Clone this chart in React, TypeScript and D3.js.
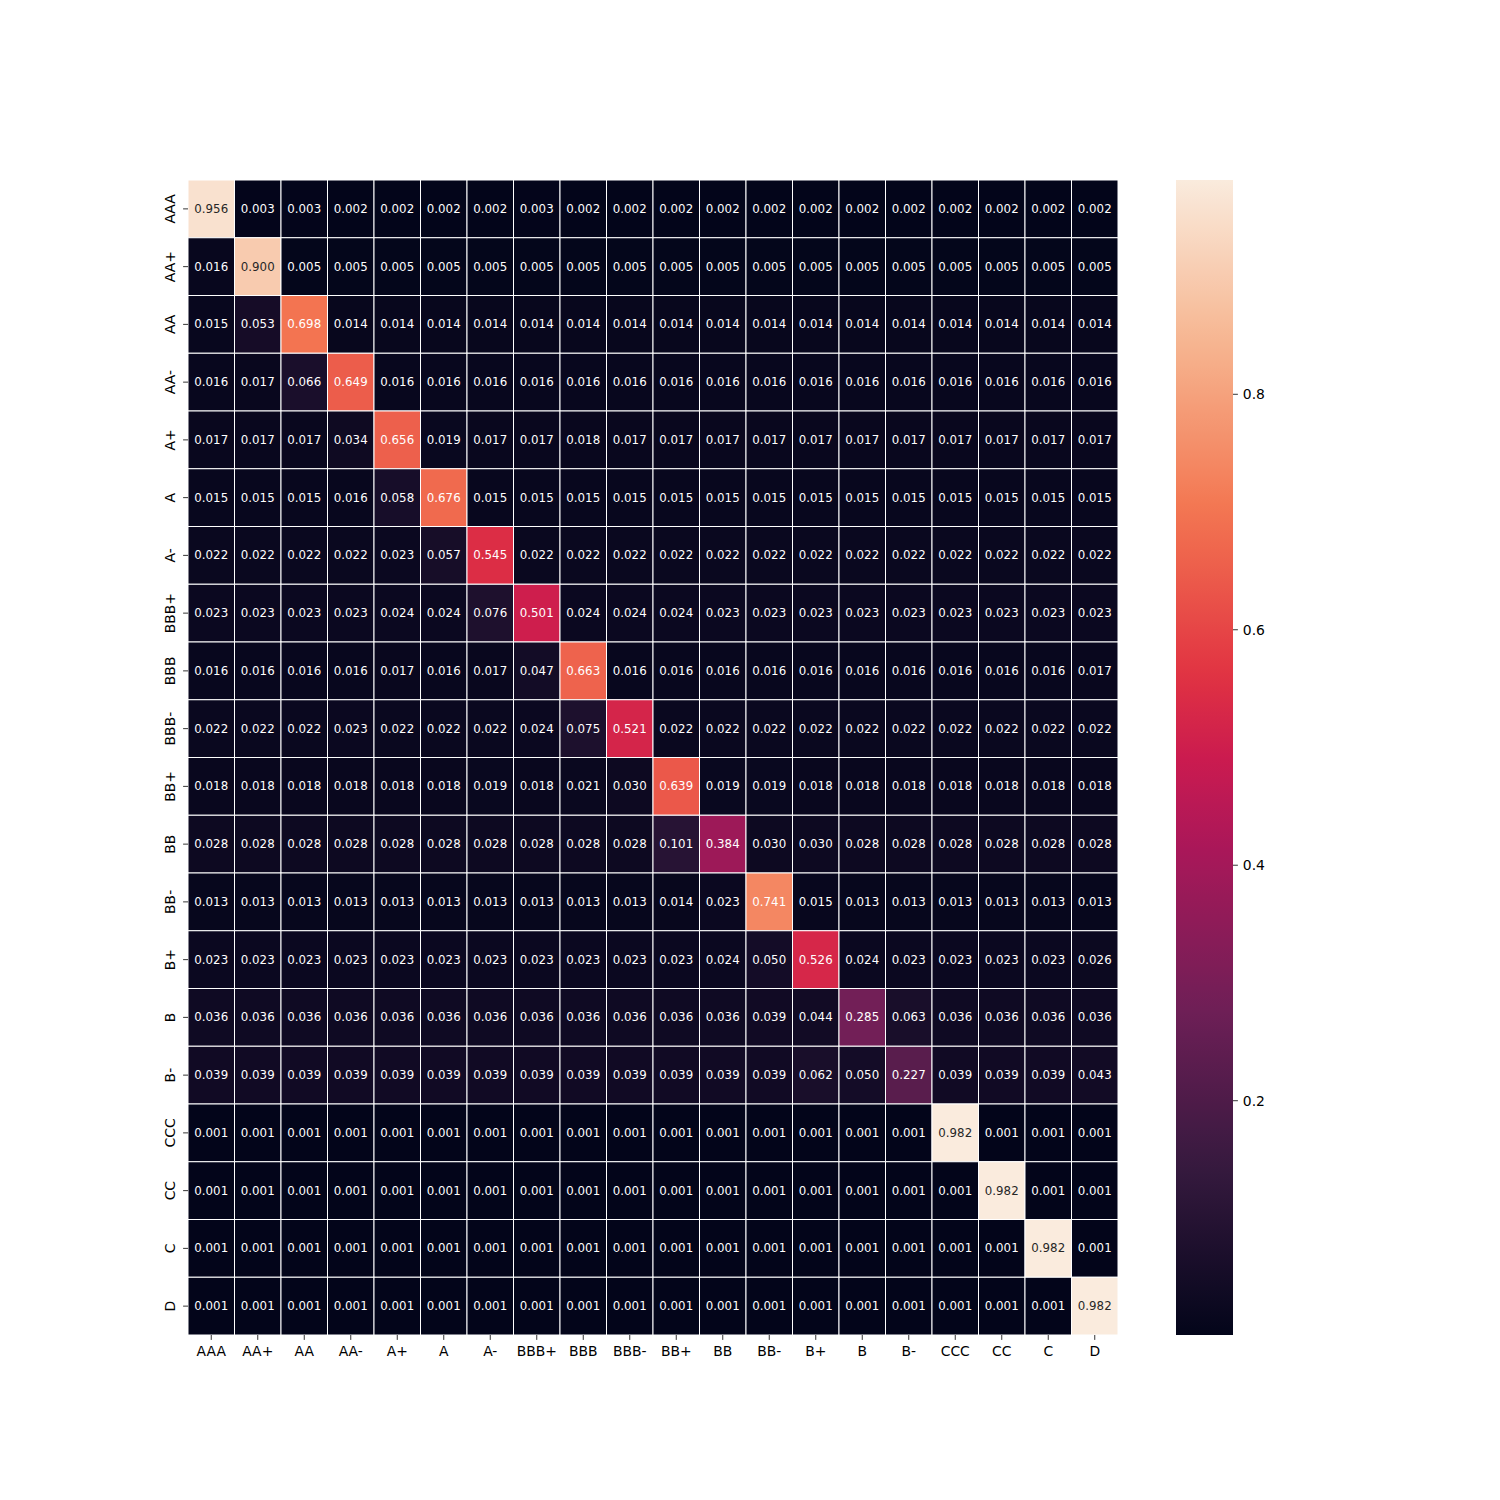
import React from 'react';
import * as d3 from 'd3';

const ratings = ['AAA', 'AA+', 'AA', 'AA-', 'A+', 'A', 'A-', 'BBB+', 'BBB', 'BBB-', 'BB+', 'BB', 'BB-', 'B+', 'B', 'B-', 'CCC', 'CC', 'C', 'D'];

// transition probabilities, one row per starting rating
const transitions = [
  [0.956, 0.003, 0.003, 0.002, 0.002, 0.002, 0.002, 0.003, 0.002, 0.002, 0.002, 0.002, 0.002, 0.002, 0.002, 0.002, 0.002, 0.002, 0.002, 0.002],
  [0.016, 0.900, 0.005, 0.005, 0.005, 0.005, 0.005, 0.005, 0.005, 0.005, 0.005, 0.005, 0.005, 0.005, 0.005, 0.005, 0.005, 0.005, 0.005, 0.005],
  [0.015, 0.053, 0.698, 0.014, 0.014, 0.014, 0.014, 0.014, 0.014, 0.014, 0.014, 0.014, 0.014, 0.014, 0.014, 0.014, 0.014, 0.014, 0.014, 0.014],
  [0.016, 0.017, 0.066, 0.649, 0.016, 0.016, 0.016, 0.016, 0.016, 0.016, 0.016, 0.016, 0.016, 0.016, 0.016, 0.016, 0.016, 0.016, 0.016, 0.016],
  [0.017, 0.017, 0.017, 0.034, 0.656, 0.019, 0.017, 0.017, 0.018, 0.017, 0.017, 0.017, 0.017, 0.017, 0.017, 0.017, 0.017, 0.017, 0.017, 0.017],
  [0.015, 0.015, 0.015, 0.016, 0.058, 0.676, 0.015, 0.015, 0.015, 0.015, 0.015, 0.015, 0.015, 0.015, 0.015, 0.015, 0.015, 0.015, 0.015, 0.015],
  [0.022, 0.022, 0.022, 0.022, 0.023, 0.057, 0.545, 0.022, 0.022, 0.022, 0.022, 0.022, 0.022, 0.022, 0.022, 0.022, 0.022, 0.022, 0.022, 0.022],
  [0.023, 0.023, 0.023, 0.023, 0.024, 0.024, 0.076, 0.501, 0.024, 0.024, 0.024, 0.023, 0.023, 0.023, 0.023, 0.023, 0.023, 0.023, 0.023, 0.023],
  [0.016, 0.016, 0.016, 0.016, 0.017, 0.016, 0.017, 0.047, 0.663, 0.016, 0.016, 0.016, 0.016, 0.016, 0.016, 0.016, 0.016, 0.016, 0.016, 0.017],
  [0.022, 0.022, 0.022, 0.023, 0.022, 0.022, 0.022, 0.024, 0.075, 0.521, 0.022, 0.022, 0.022, 0.022, 0.022, 0.022, 0.022, 0.022, 0.022, 0.022],
  [0.018, 0.018, 0.018, 0.018, 0.018, 0.018, 0.019, 0.018, 0.021, 0.030, 0.639, 0.019, 0.019, 0.018, 0.018, 0.018, 0.018, 0.018, 0.018, 0.018],
  [0.028, 0.028, 0.028, 0.028, 0.028, 0.028, 0.028, 0.028, 0.028, 0.028, 0.101, 0.384, 0.030, 0.030, 0.028, 0.028, 0.028, 0.028, 0.028, 0.028],
  [0.013, 0.013, 0.013, 0.013, 0.013, 0.013, 0.013, 0.013, 0.013, 0.013, 0.014, 0.023, 0.741, 0.015, 0.013, 0.013, 0.013, 0.013, 0.013, 0.013],
  [0.023, 0.023, 0.023, 0.023, 0.023, 0.023, 0.023, 0.023, 0.023, 0.023, 0.023, 0.024, 0.050, 0.526, 0.024, 0.023, 0.023, 0.023, 0.023, 0.026],
  [0.036, 0.036, 0.036, 0.036, 0.036, 0.036, 0.036, 0.036, 0.036, 0.036, 0.036, 0.036, 0.039, 0.044, 0.285, 0.063, 0.036, 0.036, 0.036, 0.036],
  [0.039, 0.039, 0.039, 0.039, 0.039, 0.039, 0.039, 0.039, 0.039, 0.039, 0.039, 0.039, 0.039, 0.062, 0.050, 0.227, 0.039, 0.039, 0.039, 0.043],
  [0.001, 0.001, 0.001, 0.001, 0.001, 0.001, 0.001, 0.001, 0.001, 0.001, 0.001, 0.001, 0.001, 0.001, 0.001, 0.001, 0.982, 0.001, 0.001, 0.001],
  [0.001, 0.001, 0.001, 0.001, 0.001, 0.001, 0.001, 0.001, 0.001, 0.001, 0.001, 0.001, 0.001, 0.001, 0.001, 0.001, 0.001, 0.982, 0.001, 0.001],
  [0.001, 0.001, 0.001, 0.001, 0.001, 0.001, 0.001, 0.001, 0.001, 0.001, 0.001, 0.001, 0.001, 0.001, 0.001, 0.001, 0.001, 0.001, 0.982, 0.001],
  [0.001, 0.001, 0.001, 0.001, 0.001, 0.001, 0.001, 0.001, 0.001, 0.001, 0.001, 0.001, 0.001, 0.001, 0.001, 0.001, 0.001, 0.001, 0.001, 0.982],
];

const colorbarTicks = [0.2, 0.4, 0.6, 0.8];

// approximation of seaborn's "rocket" colormap
const rocketPos = [0, 1 / 7, 2 / 7, 3 / 7, 0.5, 4 / 7, 5 / 7, 6 / 7, 1];
const rocketStops = ['#03051a', '#35193e', '#701f57', '#ad1759', '#cb1b4f', '#e13342', '#f37651', '#f6b48f', '#faebdd'];
const rocket = d3.scaleLinear<string>()
  .domain(rocketPos)
  .range(rocketStops)
  .interpolate(d3.interpolateRgb);

const luminance = (c: string) => {
  const rgb = d3.rgb(c);
  const lin = (v: number) => {
    const s = v / 255;
    return s <= 0.03928 ? s / 12.92 : Math.pow((s + 0.055) / 1.055, 2.4);
  };
  return 0.2126 * lin(rgb.r) + 0.7152 * lin(rgb.g) + 0.0722 * lin(rgb.b);
};

const App = () => {
  const W = 1500, H = 1500;
  const left = 188, right = 1118, top = 180, bottom = 1335;
  const cbLeft = 1176, cbRight = 1233;
  const tickLen = 4.9;
  const font = 'DejaVu Sans, sans-serif';

  const all = transitions.flat();
  const vmin = d3.min(all) as number;
  const vmax = d3.max(all) as number;
  const norm = d3.scaleLinear().domain([vmin, vmax]).range([0, 1]).clamp(true);
  const color = (v: number) => rocket(norm(v));

  const x = d3.scaleBand().domain(ratings).range([left, right]);
  const y = d3.scaleBand().domain(ratings).range([top, bottom]);
  const cbY = d3.scaleLinear().domain([vmin, vmax]).range([bottom, top]);

  const gradStops = d3.range(0, 1.0001, 0.02);

  return (
    <svg width={W} height={H} style={{ position: 'absolute', left: 0, top: 0, background: '#fff' }}>
      <defs>
        <linearGradient id="cb" x1="0" y1="1" x2="0" y2="0">
          {gradStops.map((t, i) => (
            <stop key={i} offset={t} stopColor={rocket(t)} />
          ))}
        </linearGradient>
      </defs>

      {transitions.map((row, i) =>
        row.map((v, j) => {
          const c = color(v);
          const cx = (x(ratings[j]) as number) + x.bandwidth() / 2;
          const cy = (y(ratings[i]) as number) + y.bandwidth() / 2;
          return (
            <g key={`${i}-${j}`}>
              <rect
                x={x(ratings[j])}
                y={y(ratings[i])}
                width={x.bandwidth()}
                height={y.bandwidth()}
                fill={c}
                stroke="#fff"
                strokeWidth={1}
              />
              <text
                x={cx}
                y={cy}
                textAnchor="middle"
                dominantBaseline="central"
                fontFamily={font}
                fontSize={11.8}
                fill={luminance(c) > 0.408 ? '#262626' : '#fff'}
              >
                {d3.format('.3f')(v)}
              </text>
            </g>
          );
        })
      )}

      {/* x axis */}
      {ratings.map(r => {
        const cx = (x(r) as number) + x.bandwidth() / 2;
        return (
          <g key={`x-${r}`}>
            <line x1={cx} x2={cx} y1={bottom} y2={bottom + tickLen} stroke="#000" strokeWidth={0.8} />
            <text x={cx} y={bottom + 21} textAnchor="middle" fontFamily={font} fontSize={13.9} fill="#000">
              {r}
            </text>
          </g>
        );
      })}

      {/* y axis */}
      {ratings.map(r => {
        const cy = (y(r) as number) + y.bandwidth() / 2;
        return (
          <g key={`y-${r}`}>
            <line x1={left - tickLen} x2={left} y1={cy} y2={cy} stroke="#000" strokeWidth={0.8} />
            <text
              transform={`translate(${left - 13},${cy}) rotate(-90)`}
              textAnchor="middle"
              fontFamily={font}
              fontSize={13.9}
              fill="#000"
            >
              {r}
            </text>
          </g>
        );
      })}

      {/* colorbar */}
      <rect x={cbLeft} y={top} width={cbRight - cbLeft} height={bottom - top} fill="url(#cb)" />
      {colorbarTicks.map(t => (
        <g key={`cb-${t}`}>
          <line x1={cbRight} x2={cbRight + tickLen} y1={cbY(t)} y2={cbY(t)} stroke="#000" strokeWidth={0.8} />
          <text
            x={cbRight + tickLen + 4.9}
            y={cbY(t)}
            dominantBaseline="central"
            fontFamily={font}
            fontSize={13.9}
            fill="#000"
          >
            {t.toFixed(1)}
          </text>
        </g>
      ))}
    </svg>
  );
};

export default App;
